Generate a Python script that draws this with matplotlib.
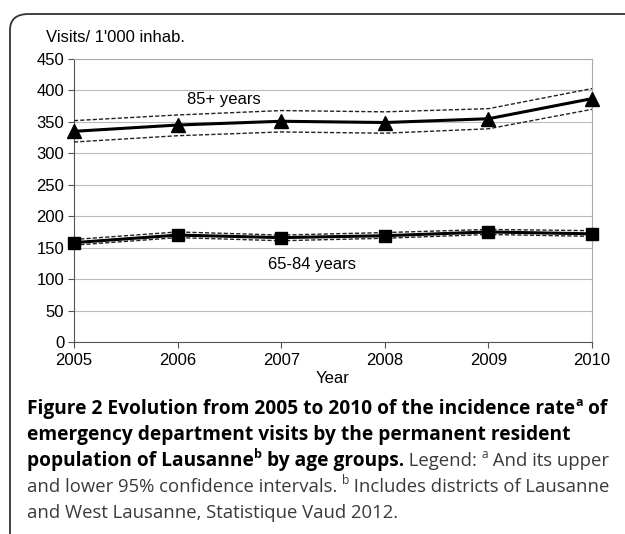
import matplotlib
matplotlib.use("Agg")
import matplotlib.pyplot as plt
from matplotlib.patches import FancyBboxPatch

plt.rcParams['font.family'] = ['Liberation Sans', 'DejaVu Sans']

# datos
years = [2005, 2006, 2007, 2008, 2009, 2010]
old_rate = [335, 345, 351, 349, 355, 387]
old_upper = [352, 361, 368, 366, 371, 403]
old_lower = [318, 328, 334, 332, 339, 370]
mid_rate = [158, 170, 166, 169, 175, 172]
mid_upper = [163, 175, 170, 174, 179, 177]
mid_lower = [154, 166, 161, 165, 171, 168]
y_ticks = [0, 50, 100, 150, 200, 250, 300, 350, 400, 450]

W, H = 625, 534
fig = plt.figure(figsize=(W / 100, H / 100), dpi=100)

# marco redondeado de la tarjeta
card = FancyBboxPatch((10 / W, -0.05), 1.2, 1 - 14 / H + 0.05,
                      boxstyle="round,pad=0,rounding_size=0.03",
                      transform=fig.transFigure, fill=False,
                      edgecolor='#333333', linewidth=1.3)
fig.patches.append(card)

ax = fig.add_axes([74 / W, 1 - 342 / H, (592 - 74) / W, (342 - 59) / H])

dash = (0, (3, 1.5))
ax.plot(years, old_upper, color='#222222', lw=1, linestyle=dash, zorder=3)
ax.plot(years, old_lower, color='#222222', lw=1, linestyle=dash, zorder=3)
ax.plot(years, old_rate, color='black', lw=2.2, marker='^', markersize=10, zorder=4, clip_on=False)
ax.plot(years, mid_upper, color='#222222', lw=1, linestyle=dash, zorder=3)
ax.plot(years, mid_lower, color='#222222', lw=1, linestyle=dash, zorder=3)
ax.plot(years, mid_rate, color='black', lw=2.2, marker='s', markersize=9, zorder=4, clip_on=False)

ax.text(2006.45, 385, '85+ years', fontsize=12, ha='center', va='center')
ax.text(2007.3, 124, '65-84 years', fontsize=12, ha='center', va='center')

ax.set_xlim(2005, 2010)
ax.set_ylim(0, 450)
ax.set_yticks(y_ticks)
ax.set_xticks(years)
ax.grid(axis='y', color='#bbbbbb', lw=0.8)
ax.set_axisbelow(True)
for s in ['top', 'right']:
    ax.spines[s].set_color('#aaaaaa')
    ax.spines[s].set_linewidth(0.8)
ax.spines['left'].set_color('#555555')
ax.spines['bottom'].set_color('#555555')
ax.tick_params(axis='both', labelsize=12, length=4, color='#555555')
ax.tick_params(axis='x', pad=4)
ax.tick_params(axis='y', pad=3)
ax.set_xlabel('Year', fontsize=12, labelpad=2)
fig.text(46 / W, 1 - 38 / H, "Visits/ 1'000 inhab.", fontsize=12, va='center')

# leyenda de la figura con negrita y superindices
cap_font = ['Open Sans', 'DejaVu Sans']
lines = [
    [("Figure 2 Evolution from 2005 to 2010 of the incidence rate", 'bold', False),
     ("a", 'bold', True), (" of", 'bold', False)],
    [("emergency department visits by the permanent resident", 'bold', False)],
    [("population of Lausanne", 'bold', False), ("b", 'bold', True),
     (" by age groups.", 'bold', False), (" Legend: ", 'normal', False),
     ("a", 'normal', True), (" And its upper", 'normal', False)],
    [("and lower 95% confidence intervals. ", 'normal', False), ("b", 'normal', True),
     (" Includes districts of Lausanne", 'normal', False)],
    [("and West Lausanne, Statistique Vaud 2012.", 'normal', False)],
]
line_y = [409, 435, 461, 487, 513]

fig.canvas.draw()
renderer = fig.canvas.get_renderer()

# ajustar tamano para que la linea 1 (negrita) y la linea 4 (normal) lleguen al borde
def ancho(txt, wt, size):
    t = fig.text(0, 0, txt, fontsize=size, fontweight=wt, family=cap_font)
    w = t.get_window_extent(renderer).width
    t.remove()
    return w

bold_size = 12 * (610 - 27) / ancho(lines[0][0][0] + "a of", 'bold', 12)
norm_size = 12 * (612 - 27) / ancho(lines[3][0][0] + "b" + lines[3][2][0], 'normal', 12)

for segs, yy in zip(lines, line_y):
    x = 27
    for txt, wt, sup in segs:
        base = bold_size if wt == 'bold' else norm_size
        size = base * 0.65 if sup else base
        dy = -7 if sup else 0
        col = 'black' if wt == 'bold' else '#3a3a3a'
        t = fig.text(x / W, 1 - (yy + dy) / H, txt, fontsize=size, fontweight=wt,
                     family=cap_font, color=col, va='center')
        bb = t.get_window_extent(renderer)
        x += bb.width

fig.savefig('out.png', dpi=100)
